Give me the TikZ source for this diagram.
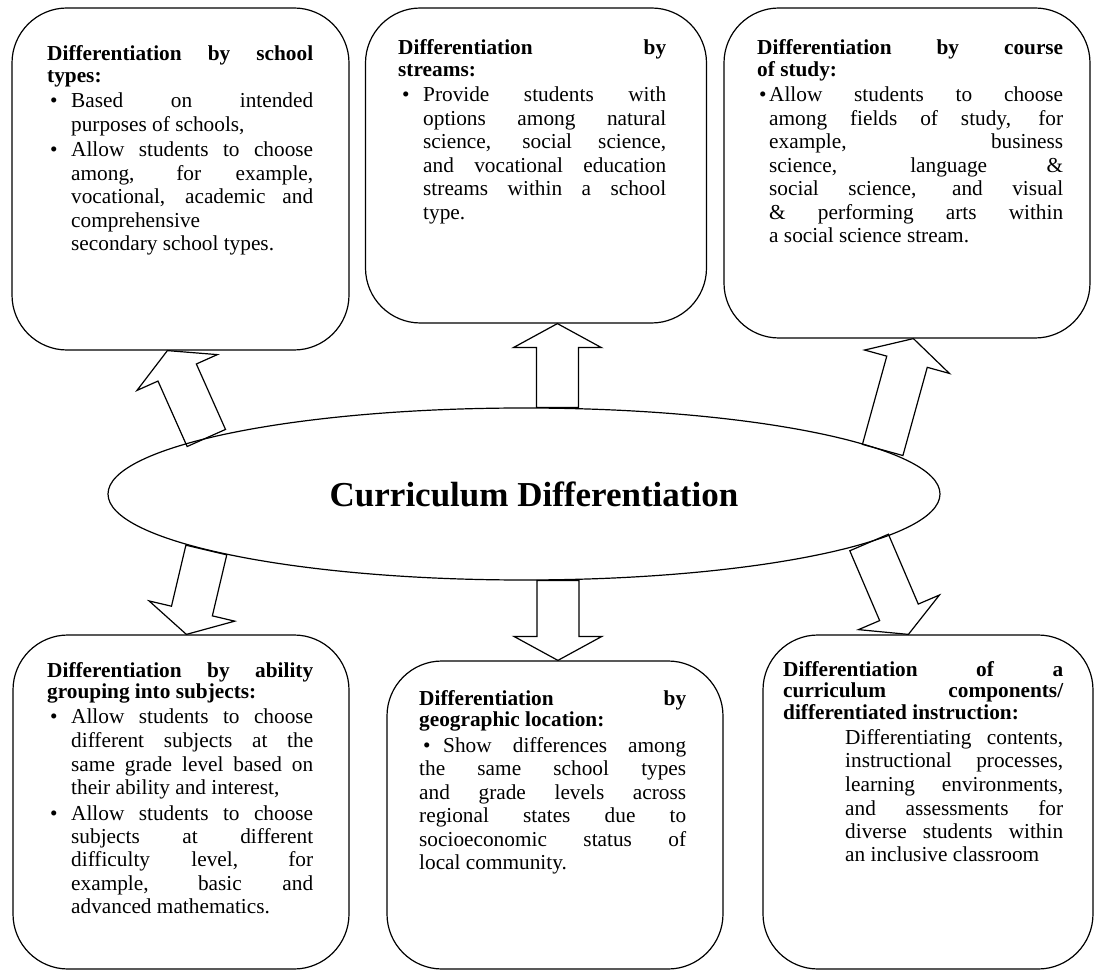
\documentclass[tikz,border=0pt]{standalone}
\usepackage{fontspec}
\setmainfont{Liberation Serif}
\usetikzlibrary{shapes.geometric,calc}

\tikzset{
  cbox/.style={draw, line width=1.2pt, rounded corners=55pt, inner sep=0pt},
  ctext/.style={anchor=base west, inner sep=0pt, align=justify,
    font=\fontsize{21.3}{23.5}\selectfont},
  fatarrow/.style={draw, line width=1.2pt, line join=miter},
}
% heading and bullet helpers
\newcommand{\hd}[1]{{\fontsize{21.3}{21.5}\selectfont\bfseries #1\par}\vspace{2pt}}
\newcommand{\bitem}[2]{\par\noindent\hangindent=#1\hangafter=1\hspace*{#2}\makebox[\dimexpr#1-#2\relax][l]{\textbullet}}
% hollow block arrow from #1 to #2
\newcommand{\blockarrow}[2]{%
  \draw[fatarrow] ($(#1)!21pt!90:(#2)$) -- ($(#2)!24pt!(#1)!21pt!90:(#2)$)
    -- ($(#2)!24pt!(#1)!44pt!90:(#2)$) -- (#2)
    -- ($(#2)!24pt!(#1)!44pt!-90:(#2)$) -- ($(#2)!24pt!(#1)!21pt!-90:(#2)$)
    -- ($(#1)!21pt!-90:(#2)$) -- cycle;}

\begin{document}
\begin{tikzpicture}[x=1pt,y=-1pt]
  \useasboundingbox (0,0) rectangle (1096,973);

  % boxes
  \node[cbox, minimum width=337pt, minimum height=342pt] (school) at (180.5,179) {};
  \node[cbox, minimum width=341pt, minimum height=315pt] (streams) at (536,165.5) {};
  \node[cbox, minimum width=366pt, minimum height=330pt] (course) at (907,173) {};
  \node[cbox, minimum width=336pt, minimum height=334pt] (ability) at (181,802) {};
  \node[cbox, minimum width=336pt, minimum height=308pt] (geo) at (555,815) {};
  \node[cbox, minimum width=330pt, minimum height=334pt] (comp) at (928,802) {};

  % centre
  \node[ellipse, draw, line width=1.2pt, minimum width=832pt, minimum height=172pt,
    inner sep=0pt, font=\fontsize{35}{40}\selectfont\bfseries] (curr) at (524,494)
    {\hspace*{20pt}Curriculum Differentiation};

  % texts
  \node[ctext, text width=266pt] (schooltxt) at (47,61) {%
    \hd{Differentiation by school \linebreak types:}%
    \bitem{24pt}{3pt}Based on intended \linebreak purposes of schools,\par\vspace{2pt}%
    \bitem{24pt}{3pt}Allow students to choose \linebreak among, for example, \linebreak
    vocational, academic and \linebreak comprehensive\newline secondary school types.\par};
  \node[ctext, text width=268pt] (streamstxt) at (398,55) {%
    \hd{Differentiation by \linebreak streams:}%
    \bitem{25pt}{4pt}Provide students with \linebreak options among natural \linebreak
    science, social science, \linebreak and vocational education \linebreak
    streams within a school \linebreak type.\par};
  \node[ctext, text width=306pt] (coursetxt) at (757,55) {%
    \hd{Differentiation by course \linebreak of study:}%
    \bitem{12pt}{2pt}Allow students to choose \linebreak among fields of study, for \linebreak
    example, business \linebreak science, language \& \linebreak
    social science, and visual \linebreak \& performing arts within \linebreak
    a social science stream.\par};
  \node[ctext, text width=266pt] (abilitytxt) at (47,677) {%
    \hd{Differentiation by ability \linebreak grouping into subjects:}%
    \bitem{24pt}{3pt}Allow students to choose \linebreak different subjects at the \linebreak
    same grade level based on \linebreak their ability and interest,\par\vspace{2pt}%
    \bitem{24pt}{3pt}Allow students to choose \linebreak subjects at different \linebreak
    difficulty level, for \linebreak example, basic and \linebreak advanced mathematics.\par};
  \node[ctext, text width=267pt] (geotxt) at (419,705) {%
    \hd{Differentiation by \linebreak geographic location:}%
    \noindent\hspace*{4pt}\makebox[20pt][l]{\textbullet}Show differences among \linebreak
    the same school types \linebreak and grade levels across \linebreak
    regional states due to \linebreak socioeconomic status of \linebreak local community.\par};
  \node[ctext, text width=280pt] (comptxt) at (783,676) {%
    \hd{Differentiation of a \linebreak curriculum components/ \linebreak differentiated instruction:}%
    {\leftskip=62pt Differentiating contents, \linebreak instructional processes, \linebreak
    learning environments, \linebreak and assessments for \linebreak
    diverse students within \linebreak an inclusive classroom\par}};

  % arrow ends
  \coordinate (ulb) at (curr.170.5);
  \coordinate (ult) at ($(school.south west)+(156,0)$);
  \coordinate (umt) at ($(streams.south west)+(192.5,0)$);
  \coordinate (umb) at (umt |- curr.north);
  \coordinate (urb) at (curr.7.4);
  \coordinate (urt) at ($(course.south west)+(190,0)$);
  \coordinate (dlb) at (curr.190.4);
  \coordinate (dlt) at ($(ability.north west)+(174,0)$);
  \coordinate (dmt) at ($(geo.north west)+(171.5,0)$);
  \coordinate (dmb) at (dmt |- curr.south);
  \coordinate (drb) at (curr.352.7);
  \coordinate (drt) at ($(comp.north west)+(146,0)$);

  \blockarrow{ulb}{ult}
  \blockarrow{umb}{umt}
  \blockarrow{urb}{urt}
  \blockarrow{dlb}{dlt}
  \blockarrow{dmb}{dmt}
  \blockarrow{drb}{drt}
\end{tikzpicture}
\end{document}
